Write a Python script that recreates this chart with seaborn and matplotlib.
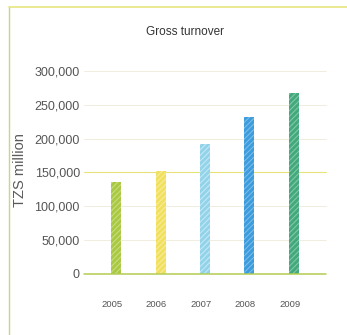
import matplotlib
matplotlib.use("Agg")
import matplotlib.pyplot as plt
import matplotlib.transforms as mtransforms
from matplotlib.lines import Line2D
import seaborn as sns
import pandas as pd

# Gross turnover, TZS million
years = ["2005", "2006", "2007", "2008", "2009"]
turnover = [136000, 152500, 192000, 232500, 268000]
bar_colors = ["#a9c843", "#f1df5e", "#93d3ea", "#3d9cdc", "#43a97c"]
hatch_colors = ["#c9dd7d", "#f8ec9a", "#c2e8f5", "#79bce9", "#7fc9a6"]
y_ticks = [0, 50000, 100000, 150000, 200000, 250000, 300000]

sns.set_style("white")
plt.rcParams["font.family"] = ["Liberation Sans", "DejaVu Sans"]
plt.rcParams["hatch.linewidth"] = 0.8

df = pd.DataFrame({"year": years, "turnover": turnover})

fig = plt.figure(figsize=(3.47, 3.35), dpi=100)
ax = fig.add_axes([84 / 347, 1 - 273.7 / 335, (326 - 84) / 347, (273.7 - 71) / 335])

sns.barplot(data=df, x="year", y="turnover", hue="year", palette=bar_colors,
            legend=False, width=0.225, saturation=1, ax=ax)

# light diagonal texture on the bars
for patch, hc in zip(ax.patches, hatch_colors):
    patch.set_hatch("//////")
    patch.set_edgecolor(hc)
    patch.set_linewidth(0)

ax.set_xlim(-0.72, 4.72)
ax.set_ylim(0, 300000)
ax.set_yticks(y_ticks)
ax.set_yticklabels([f"{v:,}" for v in y_ticks])

# horizontal guide lines
for v in y_ticks:
    if v == 0:
        ax.axhline(v, color="#b3cc52", lw=1.1, zorder=3, clip_on=False)
    elif v == 150000:
        ax.axhline(v, color="#e9e27a", lw=0.8, zorder=0, clip_on=False)
    else:
        ax.axhline(v, color="#eee9d8", lw=0.6, zorder=0, clip_on=False)

for s in ax.spines.values():
    s.set_visible(False)

ax.tick_params(axis="y", length=0, pad=3, labelsize=9, labelcolor="#555555")
ax.tick_params(axis="x", length=0, pad=19, labelsize=6.8, labelcolor="#555555")

# year labels sit slightly left of their bars
shift = mtransforms.ScaledTranslation(-4 / 100, 0, fig.dpi_scale_trans)
for lbl in ax.get_xticklabels():
    lbl.set_transform(lbl.get_transform() + shift)

ax.set_xlabel("")
ax.set_ylabel("TZS million", fontsize=10.5, color="#5a5a5a")
ax.yaxis.set_label_coords(-0.235, 0.51)

fig.text(185 / 347, 1 - 32 / 335, "Gross turnover", ha="center", va="center",
         fontsize=8.5, color="#333333")

# page frame lines
fig.add_artist(Line2D([8.5 / 347, 8.5 / 347], [0, 1 - 7 / 335],
                      transform=fig.transFigure, color="#cfd38a", lw=1))
fig.add_artist(Line2D([8.5 / 347, 1], [1 - 7 / 335, 1 - 7 / 335],
                      transform=fig.transFigure, color="#e7e57c", lw=1.2))

fig.savefig("out.png", dpi=100)
